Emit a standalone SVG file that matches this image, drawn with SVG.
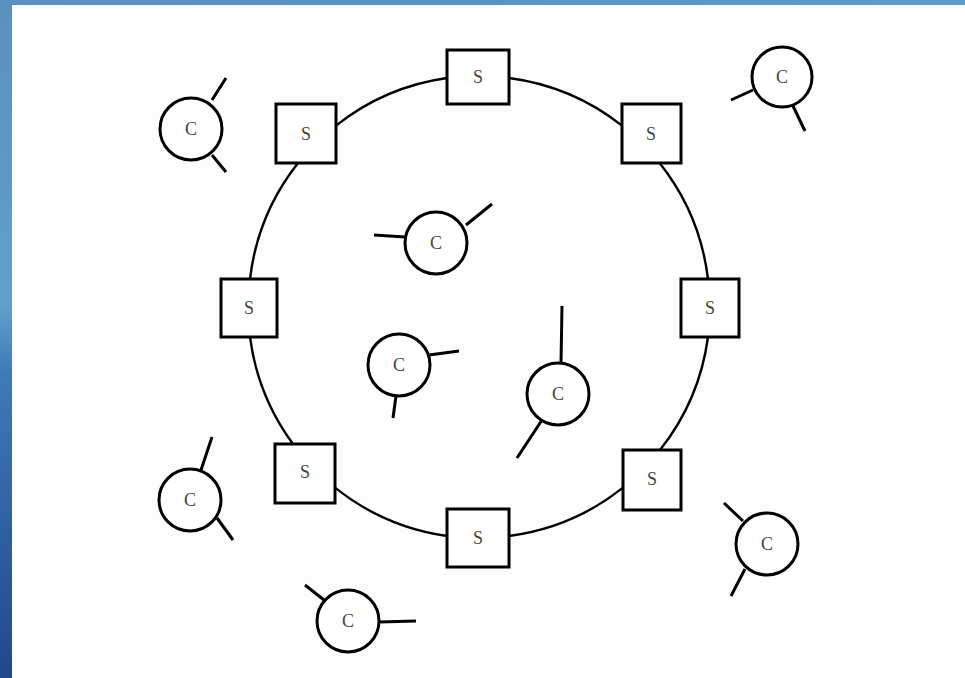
<svg xmlns="http://www.w3.org/2000/svg" width="965" height="678" viewBox="0 0 965 678">
<defs>
<linearGradient id="side" x1="0" y1="0" x2="0" y2="1">
<stop offset="0" stop-color="#5b8fc0"/>
<stop offset="0.45" stop-color="#5fa0cc"/>
<stop offset="0.55" stop-color="#3f7ab8"/>
<stop offset="1" stop-color="#22478c"/>
</linearGradient>
<linearGradient id="topg" x1="0" y1="0" x2="1" y2="0">
<stop offset="0" stop-color="#5a8fc2"/>
<stop offset="0.5" stop-color="#5a92c6"/>
<stop offset="1" stop-color="#5c9ccd"/>
</linearGradient>
</defs>
<style>
.srv rect{fill:#fff;stroke:#000;stroke-width:3}
.cli circle{fill:#fff;stroke:#000;stroke-width:3}
.stub{stroke:#000;stroke-width:3;fill:none}
.ring path{fill:none;stroke:#000;stroke-width:2.4}
text{font-family:"Liberation Serif","Times New Roman",serif;font-size:18px;fill:#444;text-anchor:middle;dominant-baseline:central}
</style>
<rect x="0" y="0" width="965" height="678" fill="#fdfdfd"/>
<rect x="0" y="0" width="12" height="678" fill="url(#side)"/>
<rect x="0" y="0" width="965" height="5" fill="url(#topg)"/>

<g id="connectors" class="ring">
<path d="M336,125.6 A231,231 0 0 1 447,78"/>
<path d="M509,78 A231,231 0 0 1 622,125.6"/>
<path d="M659.6,163 A231,231 0 0 1 708,279"/>
<path d="M708,337 A231,231 0 0 1 660,450"/>
<path d="M623,487.6 A231,231 0 0 1 509,536"/>
<path d="M447,536 A231,231 0 0 1 335,487.6"/>
<path d="M293,444 A231,231 0 0 1 250,337"/>
<path d="M250,279 A231,231 0 0 1 298,163"/>
</g>

<g id="s-top" class="srv"><rect x="447" y="50" width="62" height="54"/><text x="478" y="77">S</text></g>
<g id="s-topleft" class="srv"><rect x="276" y="104" width="60" height="59"/><text x="306" y="134">S</text></g>
<g id="s-topright" class="srv"><rect x="622" y="104" width="59" height="59"/><text x="651" y="134">S</text></g>
<g id="s-left" class="srv"><rect x="221" y="279" width="56" height="58"/><text x="249" y="308">S</text></g>
<g id="s-right" class="srv"><rect x="681" y="279" width="58" height="58"/><text x="710" y="308">S</text></g>
<g id="s-bottomleft" class="srv"><rect x="275" y="444" width="60" height="59"/><text x="305" y="472">S</text></g>
<g id="s-bottomright" class="srv"><rect x="623" y="450" width="58" height="60"/><text x="652" y="479">S</text></g>
<g id="s-bottom" class="srv"><rect x="447" y="509" width="62" height="58"/><text x="478" y="538">S</text></g>

<g id="c-topleft" class="cli">
<path class="stub" d="M212,100 L226,78 M212,155 L226,172"/>
<circle cx="191" cy="129" r="31"/><text x="191" y="129">C</text></g>
<g id="c-topright" class="cli">
<path class="stub" d="M753,90 L731,100 M793,106 L805,131"/>
<circle cx="782" cy="77" r="30"/><text x="782" y="77">C</text></g>
<g id="c-innertop" class="cli">
<path class="stub" d="M405,237 L374,235 M466,225 L492,204"/>
<circle cx="436" cy="243" r="31"/><text x="436" y="243">C</text></g>
<g id="c-innermid" class="cli">
<path class="stub" d="M429,355 L459,351 M396,396 L393,418"/>
<circle cx="399" cy="365" r="31"/><text x="399" y="365">C</text></g>
<g id="c-innerright" class="cli">
<path class="stub" d="M561,364 L562,306 M542,420 L517,458"/>
<circle cx="558" cy="394" r="31"/><text x="558" y="394">C</text></g>
<g id="c-bottomleft" class="cli">
<path class="stub" d="M201,470 L212,437 M217,518 L233,540"/>
<circle cx="190" cy="500" r="31"/><text x="190" y="500">C</text></g>
<g id="c-bottom" class="cli">
<path class="stub" d="M324,600 L305,585 M379,622 L416,621"/>
<circle cx="348" cy="621" r="31"/><text x="348" y="621">C</text></g>
<g id="c-bottomright" class="cli">
<path class="stub" d="M743,521 L724,503 M745,569 L731,596"/>
<circle cx="767" cy="544" r="31"/><text x="767" y="544">C</text></g>
</svg>
